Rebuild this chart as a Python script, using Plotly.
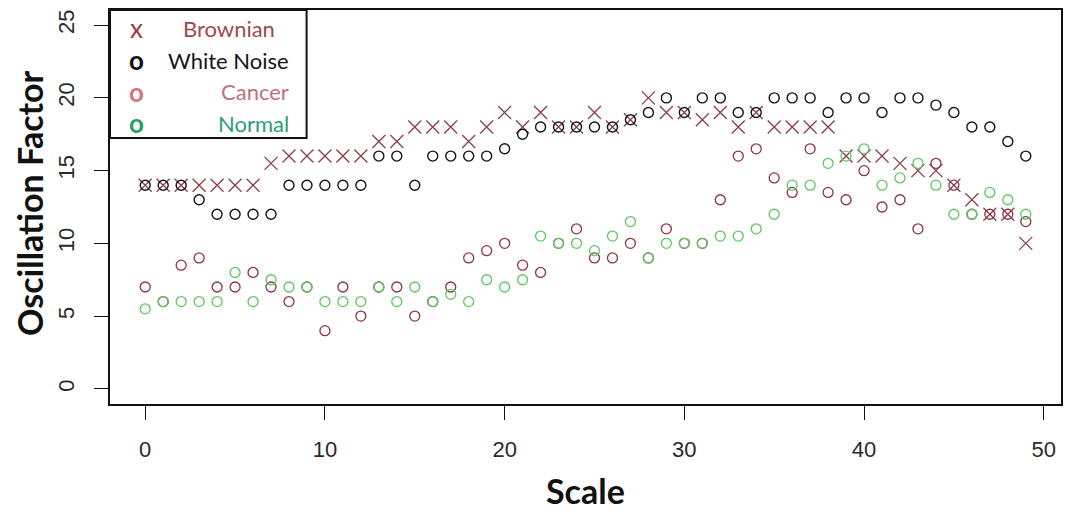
import plotly.graph_objects as go

# Scale index 0..49
scale = list(range(50))

brownian = [14, 14, 14, 14, 14, 14, 14, 15.5, 16, 16,
            16, 16, 16, 17, 17, 18, 18, 18, 17, 18,
            19, 18, 19, 18, 18, 19, 18, 18.5, 20, 19,
            19, 18.5, 19, 18, 19, 18, 18, 18, 18, 16,
            16, 16, 15.5, 15, 15, 14, 13, 12, 12, 10]

white_noise = [14, 14, 14, 13, 12, 12, 12, 12, 14, 14,
               14, 14, 14, 16, 16, 14, 16, 16, 16, 16,
               16.5, 17.5, 18, 18, 18, 18, 18, 18.5, 19, 20,
               19, 20, 20, 19, 19, 20, 20, 20, 19, 20,
               20, 19, 20, 20, 19.5, 19, 18, 18, 17, 16]

cancer = [7, 6, 8.5, 9, 7, 7, 8, 7, 6, 7,
          4, 7, 5, 7, 7, 5, 6, 7, 9, 9.5,
          10, 8.5, 8, 10, 11, 9, 9, 10, 9, 11,
          10, 10, 13, 16, 16.5, 14.5, 13.5, 16.5, 13.5, 13,
          15, 12.5, 13, 11, 15.5, 14, 12, 12, 12, 11.5]

normal = [5.5, 6, 6, 6, 6, 8, 6, 7.5, 7, 7,
          6, 6, 6, 7, 6, 7, 6, 6.5, 6, 7.5,
          7, 7.5, 10.5, 10, 10, 9.5, 10.5, 11.5, 9, 10,
          10, 10, 10.5, 10.5, 11, 12, 14, 14, 15.5, 16,
          16.5, 14, 14.5, 15.5, 14, 12, 12, 13.5, 13, 12]

y_ticks = [0, 5, 10, 15, 20, 25]
x_ticks = [0, 10, 20, 30, 40, 50]

legend_labels = ["Brownian", "White Noise", "Cancer", "Normal"]

C_BROWN = "#8a3e48"
C_WHITE = "#141414"
C_CANCER = "#8e3246"
C_NORMAL = "#5cc860"

W, H = 1065, 514
L, R, T, B = 110, 2, 10, 110

fig = go.Figure()

fig.add_trace(go.Scatter(
    x=scale, y=brownian, mode="markers", name=legend_labels[0],
    marker=dict(symbol="x-thin", size=13, color=C_BROWN,
                line=dict(width=1.3, color=C_BROWN))))
fig.add_trace(go.Scatter(
    x=scale, y=white_noise, mode="markers", name=legend_labels[1],
    marker=dict(symbol="circle-open", size=10, color=C_WHITE,
                line=dict(width=1.4, color=C_WHITE))))
fig.add_trace(go.Scatter(
    x=scale, y=cancer, mode="markers", name=legend_labels[2],
    marker=dict(symbol="circle-open", size=10, color=C_CANCER,
                line=dict(width=1.3, color=C_CANCER))))
fig.add_trace(go.Scatter(
    x=scale, y=normal, mode="markers", name=legend_labels[3],
    marker=dict(symbol="circle-open", size=10, color=C_NORMAL,
                line=dict(width=1.3, color=C_NORMAL))))

tick_font = dict(family="Liberation Sans Narrow, Liberation Sans, Arial, sans-serif",
                 size=22, color="#2a2a2a")
axis_common = dict(
    showgrid=False, zeroline=False, showline=True, mirror=True,
    linecolor="#111", linewidth=1.6,
    ticks="outside", ticklen=14, tickwidth=1.3, tickcolor="#111",
    tickfont=tick_font,
)

fig.update_xaxes(range=[-1.96, 50.96], tickvals=x_ticks, ticklabelstandoff=11,
                 **axis_common)
fig.update_yaxes(range=[-1.04, 26.04], tickvals=y_ticks, tickangle=-90,
                 ticklabelstandoff=11, **axis_common)

# axis titles
title_font = dict(family="Lato, Open Sans, sans-serif", size=34, color="#111")
annotations = [
    dict(text="<b>Scale</b>", xref="paper", yref="paper", x=0.5, y=0,
         yshift=-86, xanchor="center", yanchor="middle", showarrow=False,
         font=title_font),
    dict(text="<b>Oscillation Factor</b>", xref="paper", yref="paper", x=0, y=0.5,
         xshift=-(L - 29), yshift=4, xanchor="center", yanchor="middle", textangle=-90,
         showarrow=False, font=title_font),
]

# legend box (top-left corner of the plot area)
def px_x(px):
    return (px - L) / (W - L - R)

def px_y(py):
    return (H - B - py) / (H - T - B)

shapes = [dict(type="rect", xref="paper", yref="paper",
               x0=px_x(110), x1=px_x(307), y0=px_y(138), y1=px_y(10),
               line=dict(color="#111", width=2), fillcolor="white", layer="above")]

leg_font = "Lato, Open Sans, sans-serif"
rows_y = [28, 60, 92, 123]
glyphs = [("x", "#a03a48", False), ("o", "#111111", True),
          ("o", "#d07888", True), ("o", "#2e9e62", True)]
text_colors = ["#a04850", "#151515", "#c07080", "#2e9e70"]
for i, lab in enumerate(legend_labels):
    g, gc, bold = glyphs[i]
    annotations.append(dict(
        text=f"<b>{g}</b>" if bold else g, xref="paper", yref="paper",
        x=px_x(137), y=px_y(rows_y[i]), xanchor="center", yanchor="middle",
        showarrow=False, font=dict(family=leg_font, size=26, color=gc)))
    if i == 0:
        annotations.append(dict(
            text=lab, xref="paper", yref="paper", x=px_x(229), y=px_y(rows_y[i]),
            xanchor="center", yanchor="middle", showarrow=False,
            font=dict(family=leg_font, size=22, color=text_colors[i])))
    else:
        annotations.append(dict(
            text=lab, xref="paper", yref="paper", x=px_x(291), y=px_y(rows_y[i]),
            xanchor="right", yanchor="middle", showarrow=False,
            font=dict(family=leg_font, size=22, color=text_colors[i])))

fig.update_layout(
    width=W, height=H,
    margin=dict(l=L, r=R, t=T, b=B),
    paper_bgcolor="white", plot_bgcolor="white",
    showlegend=False,
    annotations=annotations, shapes=shapes,
)

fig.write_html("out.html")
